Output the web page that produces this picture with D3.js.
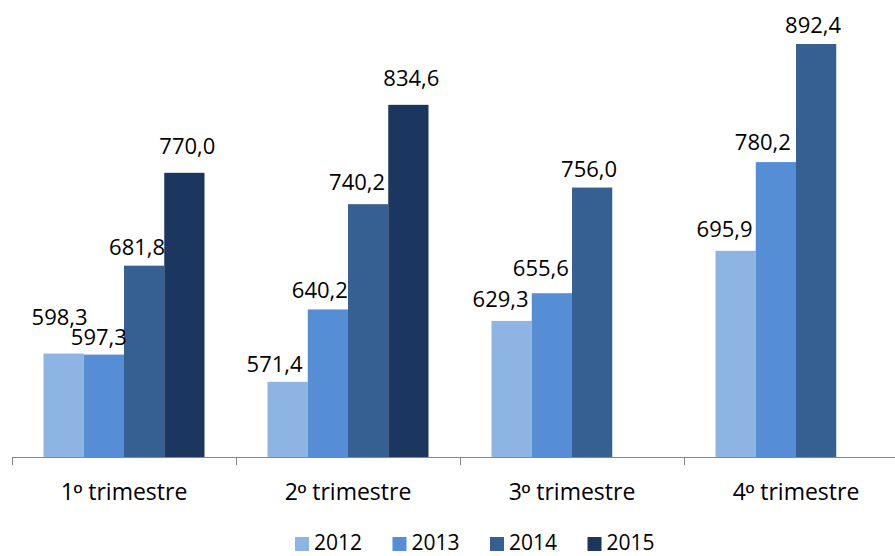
<!DOCTYPE html>
<html>
<head>
<meta charset="utf-8">
<script src="https://d3js.org/d3.v7.min.js"></script>
<style>
  body { margin: 0; background: #fff; }
  svg { display: block; }
  text { font-family: "Open Sans", "Noto Sans", sans-serif; fill: #000; }
  .ord { font-family: "Liberation Sans", sans-serif; }
</style>
</head>
<body>
<svg id="svg" width="895" height="556"></svg>

<script>
// data
var quarters = ["1º trimestre", "2º trimestre", "3º trimestre", "4º trimestre"];
var years = ["2012", "2013", "2014", "2015"];
var v2012 = [598.3, 571.4, 629.3, 695.9];
var v2013 = [597.3, 640.2, 655.6, 780.2];
var v2014 = [681.8, 740.2, 756.0, 892.4];
var v2015 = [770.0, 834.6, null, null];
var colors = ["#8eb4e3", "#558ed5", "#376092", "#1b3760"];

// label nudges (dx, dy from bar top), label placement in the original is hand tuned
var labelDx = [[-4, -5, -7, 3], [-13, -8, -11, 3], [-11, -11, -3, 0], [-11, -13, -3, 0]];
var labelDy = [[-29, -10, -11, -19], [-10, -11, -14, -19], [-14, -17, -11, 0], [-14, -12, -11, 0]];

var series = [v2012, v2013, v2014, v2015];

var svg = d3.select("svg");

var x = d3.scaleBand().domain(quarters).range([12, 908]);
var xs = d3.scaleBand().domain(years).range([31.5, 192.5]);
var y = d3.scaleLinear().domain([500, 900]).range([457, 36]);

function fmt(v) { return v.toFixed(1).replace(".", ","); }

// bars
var rows = [];
quarters.forEach(function(q, i) {
  years.forEach(function(yr, j) {
    var v = series[j][i];
    if (v == null) return;
    rows.push({q: q, yr: yr, v: v, i: i, j: j});
  });
});

svg.append("g")
  .selectAll("rect")
  .data(rows)
  .enter()
  .append("rect")
    .attr("x", function(d) { return x(d.q) + xs(d.yr); })
    .attr("y", function(d) { return y(d.v); })
    .attr("width", xs.bandwidth())
    .attr("height", function(d) { return y(500) - y(d.v); })
    .attr("fill", function(d) { return colors[d.j]; });

// value labels
svg.append("g")
  .selectAll("text")
  .data(rows)
  .enter()
  .append("text")
    .attr("x", function(d) { return x(d.q) + xs(d.yr) + xs.bandwidth() / 2 + labelDx[d.i][d.j]; })
    .attr("y", function(d) { return y(d.v) + labelDy[d.i][d.j]; })
    .attr("text-anchor", "middle")
    .style("font-size", "22px")
    .text(function(d) { return fmt(d.v); });

// category axis
var axisG = svg.append("g");
axisG.append("line")
  .attr("x1", x.range()[0]).attr("x2", x.range()[1])
  .attr("y1", y(500) + 0.5).attr("y2", y(500) + 0.5)
  .attr("stroke", "#868686");
axisG.selectAll(".tick")
  .data(quarters)
  .enter()
  .append("line")
    .attr("x1", function(d) { return Math.round(x(d)) + 0.5; })
    .attr("x2", function(d) { return Math.round(x(d)) + 0.5; })
    .attr("y1", y(500)).attr("y2", y(500) + 8)
    .attr("stroke", "#868686");
var cat = axisG.selectAll("text")
  .data(quarters)
  .enter()
  .append("text")
    .attr("x", function(d) { return x(d) + x.bandwidth() / 2; })
    .attr("y", 500)
    .attr("text-anchor", "middle")
    .style("font-size", "23px");
cat.append("tspan").text(function(d) { return d.split("º")[0]; });
cat.append("tspan").attr("class", "ord").text("º");
cat.append("tspan").text(function(d) { return d.split("º")[1]; });

// legend
var legX = d3.scaleBand().domain(years).range([295, 685]);
var leg = svg.append("g")
  .selectAll("g")
  .data(years)
  .enter()
  .append("g")
    .attr("transform", function(d) { return "translate(" + legX(d) + ",0)"; });
leg.append("rect")
  .attr("x", 0).attr("y", 537)
  .attr("width", 14).attr("height", 14)
  .attr("fill", function(d, i) { return colors[i]; });
leg.append("text")
  .attr("x", 19).attr("y", 550)
  .style("font-size", "21px")
  .text(function(d) { return d; });
</script>
</body>
</html>
